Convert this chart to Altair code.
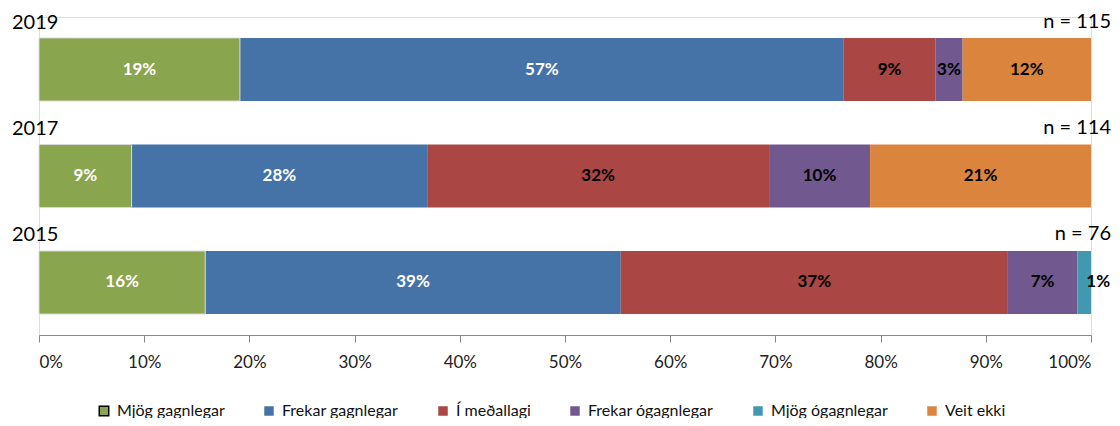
import altair as alt
import pandas as pd

years = ["2019", "2017", "2015"]
n_values = [115, 114, 76]
categories = ["Mjög gagnlegar", "Frekar gagnlegar", "Í meðallagi",
              "Frekar ógagnlegar", "Mjög ógagnlegar", "Veit ekki"]
colors = ["#89A54E", "#4572A7", "#AA4643", "#71588F", "#4198AF", "#DB843D"]

# percentages per year, in category order
pct_2019 = [19.1, 57.4, 8.7, 2.6, 0.0, 12.2]
pct_2017 = [8.8, 28.1, 32.5, 9.6, 0.0, 21.0]
pct_2015 = [15.8, 39.5, 36.8, 6.6, 1.3, 0.0]
labels_2019 = ["19%", "57%", "9%", "3%", "", "12%"]
labels_2017 = ["9%", "28%", "32%", "10%", "", "21%"]
labels_2015 = ["16%", "39%", "37%", "7%", "1%", ""]

rows = []
for yr, pcts, labs in zip(years, [pct_2019, pct_2017, pct_2015],
                          [labels_2019, labels_2017, labels_2015]):
    for i, (c, p, l) in enumerate(zip(categories, pcts, labs)):
        rows.append({"year": yr, "cat": c, "ord": i, "pct": p, "label": l})
df = pd.DataFrame(rows)
info = pd.DataFrame({"year": years, "n": [f"n = {v}" for v in n_values]})

FONT = "Lato"

y_enc = alt.Y("year:N", sort=years, axis=None,
              scale=alt.Scale(paddingInner=0.408, paddingOuter=0.197))

base = alt.Chart(df).transform_stack(
    stack="pct", groupby=["year"], as_=["x0", "x1"],
    sort=[alt.SortField("ord", order="ascending")]
).transform_calculate(mid="(datum.x0 + datum.x1) / 2")

bars = base.mark_bar().encode(
    x=alt.X("x0:Q", scale=alt.Scale(domain=[0, 100], nice=False),
            axis=alt.Axis(values=list(range(0, 101, 10)),
                          labelExpr="datum.value + '%'",
                          title=None, grid=False, domainColor="#888888",
                          tickColor="#888888", tickSize=7, labelFontSize=17,
                          labelFont=FONT, labelColor="#222222",
                          labelPadding=12)),
    x2="x1:Q",
    y=y_enc,
    color=alt.Color("cat:N", scale=alt.Scale(domain=categories, range=colors),
                    legend=alt.Legend(orient="none", legendX=57, legendY=386,
                                      direction="horizontal", title=None,
                                      symbolType="square", symbolSize=90,
                                      labelFontSize=16, labelFont=FONT,
                                      labelColor="#111111", columnPadding=36,
                                      labelOffset=5,
                                      symbolStrokeColor="black",
                                      symbolStrokeWidth={"expr": "datum.label == 'Mjög gagnlegar' ? 1.5 : 0"})),
)

green_border = base.transform_filter(
    alt.FieldEqualPredicate(field="cat", equal="Mjög gagnlegar")
).mark_bar(filled=False, stroke="#d9d9d9", strokeWidth=1).encode(
    x="x0:Q", x2="x1:Q", y=y_enc)

text_color = alt.condition(
    alt.FieldOneOfPredicate(field="cat", oneOf=["Mjög gagnlegar", "Frekar gagnlegar"]),
    alt.value("white"), alt.value("black"))

labels_big = base.transform_filter("datum.pct >= 2").mark_text(
    font=FONT, fontSize=17, fontWeight="bold").encode(
    x="mid:Q", y=y_enc, text="label:N", color=text_color)

labels_small = base.transform_filter("datum.pct > 0 && datum.pct < 2").mark_text(
    font=FONT, fontSize=17, fontWeight="bold", dx=14).encode(
    x="mid:Q", y=y_enc, text="label:N", color=text_color)

year_text = alt.Chart(info).mark_text(
    font=FONT, fontSize=20, align="left", baseline="alphabetic",
    dx=-27, dy=-41, color="black").encode(
    x=alt.datum(0), y=y_enc, text="year:N")

n_text = alt.Chart(info).mark_text(
    font=FONT, fontSize=20, align="right", baseline="alphabetic",
    dx=20, dy=-42, color="black").encode(
    x=alt.datum(100), y=y_enc, text="n:N")

chart = alt.layer(bars, green_border, labels_big, labels_small, year_text, n_text).properties(
    width=1052, height=318,
    autosize=alt.AutoSizeParams(type="none"),
    padding={"left": 31, "top": 9, "right": 21, "bottom": 83},
).configure_view(stroke=None).configure(font=FONT)

chart.save("out.html", embed_options={"renderer": "svg", "actions": False})
